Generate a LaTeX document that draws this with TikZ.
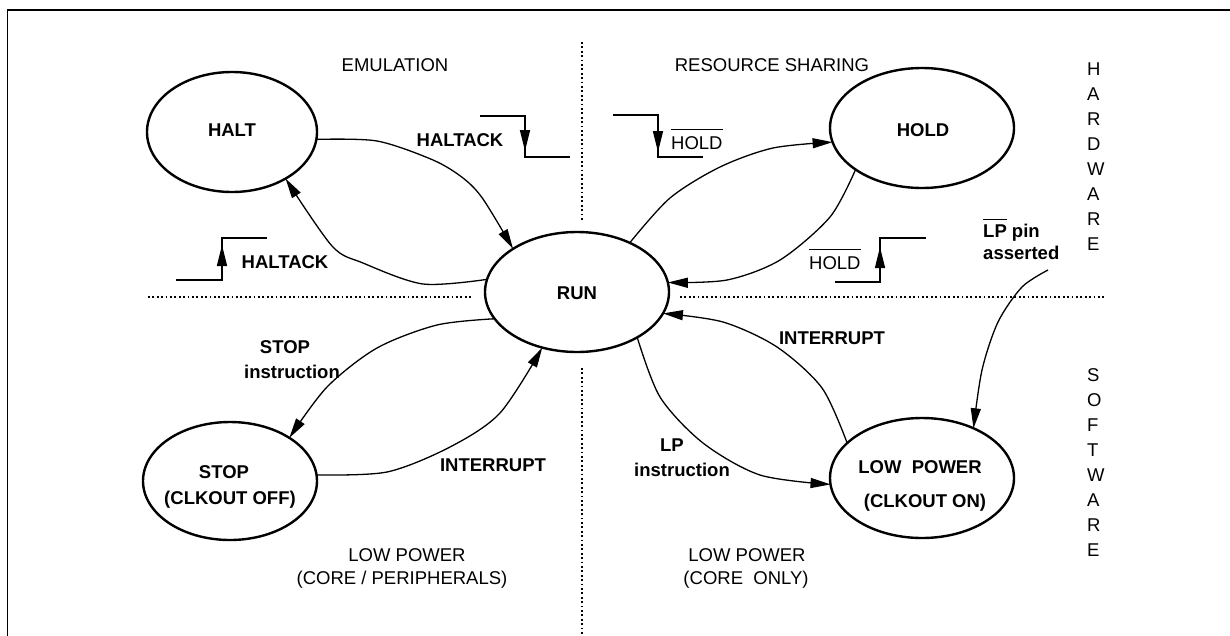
\documentclass[tikz,border=0pt]{standalone}
\usepackage{fontspec}
\setmainfont{Liberation Sans}
\usetikzlibrary{shapes.geometric,arrows.meta}

% text with a bar over it (active-low signal names)
\newcommand\ovbar[2][6pt]{\leavevmode\vbox{\hrule height 1.3pt\kern#1\hbox{#2}}}

\begin{document}
\begin{tikzpicture}[x=1pt,y=-1pt,
  state/.style={ellipse,draw,line width=2.4pt,inner sep=0pt,outer sep=0pt},
  lbl/.style={font=\bfseries\fontsize{18.5}{23}\selectfont,inner sep=0pt},
  txt/.style={font=\fontsize{18.5}{23}\selectfont,inner sep=0pt},
  trans/.style={line width=1.3pt,-{Triangle[length=20pt,width=10pt]}},
  wave/.style={line width=1.4pt},
  wavetip/.style={line width=1.4pt,-{Triangle[length=21pt,width=10pt]}},
  divider/.style={line width=1.8pt,dash pattern=on 1.8pt off 2.6pt}]
\useasboundingbox (0,0) rectangle (1230,635);

% frame
\draw[line width=2.5pt] (7.3,10) -- (1232,10);
\draw[line width=1.2pt] (7.3,10) -- (7.3,636);

% quadrant dividers
\draw[divider] (582,42) -- (582,222);
\draw[divider] (582,368) -- (582,636);
\draw[divider] (148,297) -- (473,297);
\draw[divider] (680,297) -- (1105,297);

% states
\node[state,minimum width=170pt,minimum height=120pt] (halt) at (232,132) {};
\node[state,minimum width=184pt,minimum height=120pt] (hold) at (922,128) {};
\node[state,minimum width=184pt,minimum height=120pt] (run)  at (577,292) {};
\node[state,minimum width=174pt,minimum height=118pt] (stop) at (230,481) {};
\node[state,minimum width=184pt,minimum height=120pt] (lowp) at (922,478) {};

\node[lbl] (haltname) at (232,130) {HALT};
\node[lbl] (holdname) at (923,130) {HOLD};
\node[lbl] (runname)  at (577,293) {RUN};
\node[lbl] (stopname) at (224,472) {STOP};
\node[lbl] (stopclk)  at (230,500) {(CLKOUT OFF)};
\node[lbl] (lowpname) at (920,467) {LOW\ \ POWER};
\node[lbl] (lowpclk)  at (925,503) {(CLKOUT ON)};

% region titles
\node[txt] (emu) at (395,65) {EMULATION};
\node[txt] (res) at (772,65) {RESOURCE SHARING};
\node[txt] (lpa1) at (407,555) {LOW POWER};
\node[txt] (lpa2) at (402,580) {(CORE / PERIPHERALS)};
\node[txt] (lpb1) at (747,555) {LOW POWER};
\node[txt] (lpb2) at (746,580) {(CORE\ \ ONLY)};
\node[txt,font=\fontsize{18.5}{25}\selectfont,align=left,anchor=north west] (hw) at (1087,63)
  {H\\A\\R\\D\\W\\A\\R\\E};
\node[txt,font=\fontsize{18.5}{25}\selectfont,align=left,anchor=north west] (sw) at (1087,368)
  {S\\O\\F\\T\\W\\A\\R\\E};

% transition labels
\node[lbl] (haltackin)  at (460,140) {HALTACK};
\node[lbl] (haltackout) at (285,262) {HALTACK};
\node[txt,anchor=base west] (holdin)  at (671,149) {\ovbar[6pt]{HOLD}};
\node[txt,anchor=base west] (holdout) at (809,269) {\ovbar[6pt]{HOLD}};
\node[lbl,anchor=base west] (lppin) at (983,237) {\ovbar[4pt]{LP} pin};
\node[lbl,anchor=base west] (lpasserted) at (983,259) {asserted};
\node[lbl] (stopi1) at (285,347) {STOP};
\node[lbl] (stopi2) at (292,372) {instruction};
\node[lbl] (intl) at (493,465) {INTERRUPT};
\node[lbl] (intr) at (832,338) {INTERRUPT};
\node[lbl] (lpi1) at (672,445) {LP};
\node[lbl] (lpi2) at (682,470) {instruction};
\coordinate (lpfrom) at (1048,270);

% signal edges
\draw[wave] (480,116) -- (525,116) -- (525,157) -- (570,157);
\draw[wavetip] (525,122) -- (525,151);
\draw[wave] (176,280) -- (222,280) -- (222,238) -- (267,238);
\draw[wavetip] (222,274) -- (222,245);
\draw[wave] (613,115) -- (658,115) -- (658,157) -- (703,157);
\draw[wavetip] (658,122) -- (658,152);
\draw[wave] (835,282) -- (880,282) -- (880,238) -- (926,238);
\draw[wavetip] (880,276) -- (880,247);

% transitions
\draw[trans] plot[smooth] coordinates {(halt.-5) (377,141) (433,160) (463,178) (483,199) (run.146)};
\draw[trans] plot[smooth] coordinates {(run.172) (423,284) (363,263) (332,246) (halt.-41)};
\draw[trans] plot[smooth] coordinates {(run.43) (670,198) (720,167) (773,148) (hold.189)};
\draw[trans] plot[smooth] coordinates {(hold.-148) (830,217) (780,260) (727,280) (run.6)};
\draw[trans] plot[smooth] coordinates {(lpfrom) (1022,287) (998,322) (982,370) (lowp.44)};
\draw[trans] plot[smooth] coordinates {(run.-162) (437,325) (377,348) (327,387) (stop.36)};
\draw[trans] plot[smooth] coordinates {(stop.4) (387,472) (450,447) (500,413) (run.-122)};
\draw[trans] plot[smooth] coordinates {(run.-37) (660,397) (703,443) (760,475) (lowp.184)};
\draw[trans] plot[smooth] coordinates {(lowp.155) (822,388) (777,347) (723,322) (run.-14)};
\end{tikzpicture}
\end{document}
